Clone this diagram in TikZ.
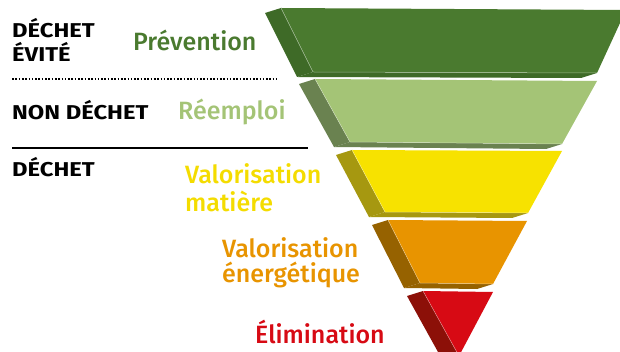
\documentclass[tikz,border=0pt]{standalone}
\usepackage{fontspec}
\setmainfont{Fira Sans}
\newfontfamily\fmed{Fira Sans Medium}
\newfontfamily\fblk{Fira Sans Bold}[FakeStretch=1.19]
\definecolor{gA}{HTML}{4A7A2F}\definecolor{gAs}{HTML}{3E6A27}
\definecolor{gB}{HTML}{A4C476}\definecolor{gBs}{HTML}{6A8250}
\definecolor{yC}{HTML}{F7E200}\definecolor{yCs}{HTML}{A69810}
\definecolor{oD}{HTML}{E89400}\definecolor{oDs}{HTML}{966200}
\definecolor{rE}{HTML}{D70A14}\definecolor{rEs}{HTML}{8C1008}
\definecolor{tY}{HTML}{F4DC00}
\tikzset{
  lbl/.style={anchor=base west, inner sep=0pt, font=\fblk\fontsize{20}{23}\selectfont, text=black},
  lvl/.style={anchor=base west, inner sep=0pt, font=\fmed\fontsize{25}{27}\selectfont},
  hl/.style={draw=white, draw opacity=0.45, line width=0.5pt}
}
\begin{document}
\begin{tikzpicture}[x=1pt,y=-1pt]
\clip (0,0) rectangle (620,352);
\fill[white] (0,0) rectangle (620,352);
% Layer 1
\fill[gAs] (281,8) -- (313,72) -- (297,77) -- (265,13) -- cycle;
\fill[gAs] (313,72) -- (597,73) -- (581,78) -- (297,77) -- cycle;
\fill[gA] (281,8) -- (626,10) -- (597,73) -- (313,72) -- cycle;
\draw[hl] (281,8) -- (313,72) -- (597,73);
% Layer 2
\fill[gBs] (315,79) -- (350,142) -- (334,147) -- (299,84) -- cycle;
\fill[gBs] (350,142) -- (562,144) -- (546,149) -- (334,147) -- cycle;
\fill[gB] (315,79) -- (597,81) -- (562,144) -- (350,142) -- cycle;
\draw[hl] (315,79) -- (350,142) -- (562,144);
% Layer 3
\fill[yCs] (352,150) -- (385,212) -- (369,217) -- (336,155) -- cycle;
\fill[yCs] (385,212) -- (528,213) -- (512,218) -- (369,217) -- cycle;
\fill[yC] (352,150) -- (562,151) -- (528,213) -- (385,212) -- cycle;
\draw[hl] (352,150) -- (385,212) -- (528,213);
% Layer 4
\fill[oDs] (388,220) -- (420,283) -- (404,288) -- (372,225) -- cycle;
\fill[oDs] (420,283) -- (493,284) -- (477,289) -- (404,288) -- cycle;
\fill[oD] (388,220) -- (527,221) -- (493,284) -- (420,283) -- cycle;
\draw[hl] (388,220) -- (420,283) -- (493,284);
% Layer 5
\fill[rEs] (423,291) -- (459,356) -- (443,361) -- (407,296) -- cycle;
\fill[rE] (423,291) -- (493,292) -- (459,356) -- cycle;
\draw[hl] (423,291) -- (459,356);
% Left labels
\node[lbl] (d1) at (12,38) {DÉCHET};
\node[lbl] (d2) at (12,62) {ÉVITÉ};
\node[lbl] (nd) at (12,120) {NON DÉCHET};
\node[lbl] (d3) at (12,177) {DÉCHET};
\coordinate (dotA) at (12,79); \coordinate (dotB) at (277,79);
\draw[line width=1.7pt, dash pattern=on 1.6pt off 1.7pt] (dotA) -- (dotB);
\coordinate (solA) at (12,148); \coordinate (solB) at (308,148);
\draw[line width=2pt] (solA) -- (solB);
% level labels
\node[lvl, text=gA] (prev) at (133,51) {Prévention};
\node[lvl, text=gB] (reem) at (178,120) {Réemploi};
\node[lvl, text=tY] (valm1) at (185,184) {Valorisation};
\node[lvl, text=tY] (valm2) at (185,212) {matière};
\node[lvl, text=oD] (vale1) at (222,258) {Valorisation};
\node[lvl, text=oD] (vale2) at (222,283) {énergétique};
\node[lvl, text=rE] (elim) at (255,343) {Élimination};
\end{tikzpicture}
\end{document}
